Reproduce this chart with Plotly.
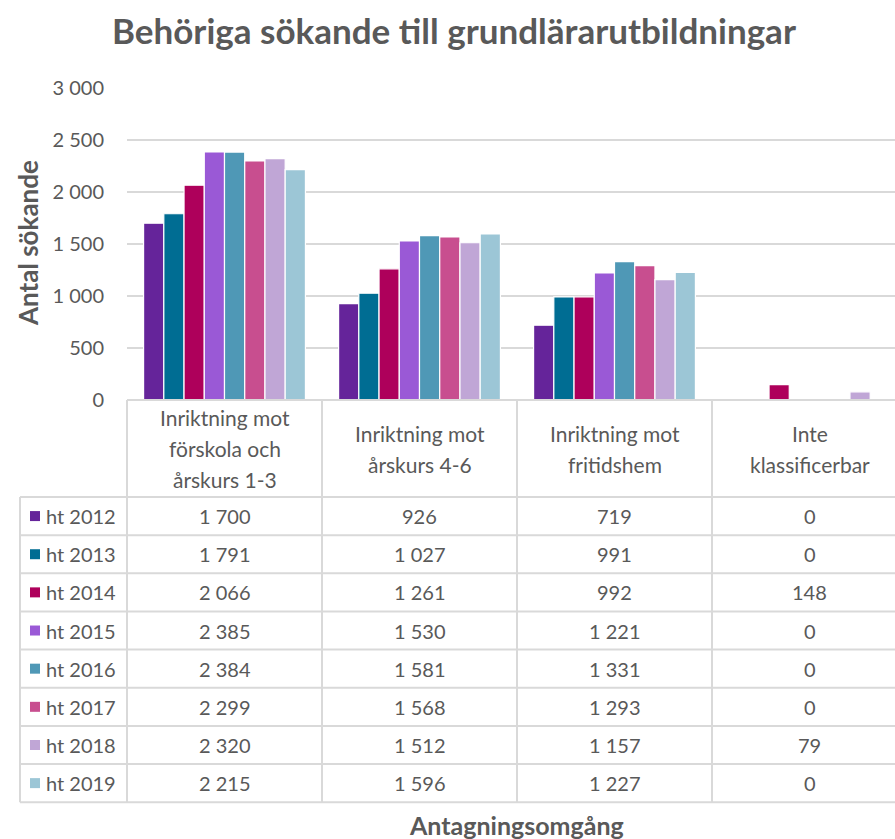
import plotly.graph_objects as go

# Data
categories = [
    "Inriktning mot<br>förskola och<br>årskurs 1-3",
    "Inriktning mot<br>årskurs 4-6",
    "Inriktning mot<br>fritidshem",
    "Inte<br>klassificerbar",
]
series_names = ["ht 2012", "ht 2013", "ht 2014", "ht 2015",
                "ht 2016", "ht 2017", "ht 2018", "ht 2019"]
ht2012 = [1700, 926, 719, 0]
ht2013 = [1791, 1027, 991, 0]
ht2014 = [2066, 1261, 992, 148]
ht2015 = [2385, 1530, 1221, 0]
ht2016 = [2384, 1581, 1331, 0]
ht2017 = [2299, 1568, 1293, 0]
ht2018 = [2320, 1512, 1157, 79]
ht2019 = [2215, 1596, 1227, 0]
series_values = [ht2012, ht2013, ht2014, ht2015, ht2016, ht2017, ht2018, ht2019]
colors = ["#65249A", "#006D93", "#AE005B", "#9A59D6",
          "#4F98B6", "#C84E8F", "#C0A6D6", "#9CC6D6"]
y_ticks = [0, 500, 1000, 1500, 2000, 2500, 3000]

W, H = 895, 839
FONT = "Lato"
TXT = "#595959"
GRID = "#D9D9D9"


def px_x(p):
    return p / W


def px_y(p):
    return 1 - p / H


def fmt(v):
    return f"{v:,}".replace(",", " ")


# Table geometry (pixels)
plot_left = 127
col_w = 195
table_top = 400
header_bottom = 497
row_h = 38.15
legend_left = 20
n_rows = len(series_names)
table_bottom = header_bottom + row_h * n_rows

x_idx = list(range(len(categories)))
x_max = -0.5 + (W - plot_left) / col_w

fig = go.Figure()
for name, vals, col in zip(series_names, series_values, colors):
    fig.add_trace(go.Bar(
        x=x_idx, y=vals, name=name,
        marker=dict(color=col, line=dict(color="white", width=1.2)),
        showlegend=False, hoverinfo="y+name",
    ))

shapes = []
line = dict(color=GRID, width=2)
# Horizontal lines of the table
shapes.append(dict(type="line", xref="paper", yref="paper",
                   x0=px_x(plot_left), x1=1, y0=px_y(table_top), y1=px_y(table_top), line=line))
for i in range(n_rows + 1):
    yy = px_y(header_bottom + row_h * i)
    shapes.append(dict(type="line", xref="paper", yref="paper",
                       x0=px_x(legend_left), x1=1, y0=yy, y1=yy, line=line))
# Vertical lines
shapes.append(dict(type="line", xref="paper", yref="paper",
                   x0=px_x(legend_left), x1=px_x(legend_left),
                   y0=px_y(header_bottom), y1=px_y(table_bottom), line=line))
for k in range(len(categories)):
    xx = px_x(plot_left + col_w * k)
    shapes.append(dict(type="line", xref="paper", yref="paper",
                       x0=xx, x1=xx, y0=px_y(table_top), y1=px_y(table_bottom), line=line))

annotations = []
# Header labels, one annotation per line so the spacing can be set
header_line_h = 31
for k, cat in enumerate(categories):
    parts = cat.split("<br>")
    mid = (table_top + header_bottom) / 2
    start = mid - header_line_h * (len(parts) - 1) / 2
    for j, part in enumerate(parts):
        annotations.append(dict(
            x=k, xref="x", y=px_y(start + header_line_h * j), yref="paper",
            text=part, showarrow=False, font=dict(family=FONT, size=21, color=TXT),
            xanchor="center", yanchor="middle", align="center",
        ))
# Row labels, keys and values
for i, (name, vals, col) in enumerate(zip(series_names, series_values, colors)):
    yc_px = header_bottom + row_h * (i + 0.5)
    yc = px_y(yc_px)
    shapes.append(dict(type="rect", xref="paper", yref="paper",
                       x0=px_x(30), x1=px_x(40), y0=px_y(yc_px - 5), y1=px_y(yc_px + 5),
                       fillcolor=col, line=dict(width=0)))
    annotations.append(dict(
        x=px_x(44), xref="paper", y=yc, yref="paper", text=name,
        showarrow=False, font=dict(family=FONT, size=20, color=TXT),
        xanchor="left", yanchor="middle",
    ))
    for k, v in enumerate(vals):
        annotations.append(dict(
            x=k, xref="x", y=yc, yref="paper", text=fmt(v),
            showarrow=False, font=dict(family=FONT, size=20, color=TXT),
            xanchor="center", yanchor="middle",
        ))
# Titles
annotations.append(dict(
    x=px_x(454), xref="paper", y=px_y(30), yref="paper",
    text="<b>Behöriga sökande till grundlärarutbildningar</b>",
    showarrow=False, font=dict(family=FONT, size=35, color=TXT),
    xanchor="center", yanchor="middle",
))
annotations.append(dict(
    x=px_x(28), xref="paper", y=px_y(243), yref="paper",
    text="<b>Antal sökande</b>", textangle=-90,
    showarrow=False, font=dict(family=FONT, size=26, color=TXT),
    xanchor="center", yanchor="middle",
))
annotations.append(dict(
    x=px_x(516), xref="paper", y=px_y(825), yref="paper",
    text="<b>Antagningsomgång</b>",
    showarrow=False, font=dict(family=FONT, size=25, color=TXT),
    xanchor="center", yanchor="middle",
))

fig.update_layout(
    width=W, height=H,
    margin=dict(l=0, r=0, t=0, b=0, pad=0, autoexpand=False),
    paper_bgcolor="white", plot_bgcolor="white",
    separators=", ",
    barmode="group", bargap=0.17, bargroupgap=0.0,
    font=dict(family=FONT, color=TXT),
    shapes=shapes, annotations=annotations,
    xaxis=dict(domain=[px_x(plot_left), 1], range=[-0.5, x_max],
               showticklabels=False, showgrid=False, zeroline=False,
               showline=False, fixedrange=True, automargin=False),
    yaxis=dict(domain=[px_y(table_top), px_y(88)], range=[0, 3000],
               tickvals=y_ticks, ticktext=[fmt(t) for t in y_ticks],
               tickfont=dict(family=FONT, size=20, color=TXT),
               showgrid=True, gridcolor=GRID, gridwidth=2,
               zeroline=False, showline=False, ticklabelstandoff=22,
               automargin=False),
)

fig.write_html("out.html")
